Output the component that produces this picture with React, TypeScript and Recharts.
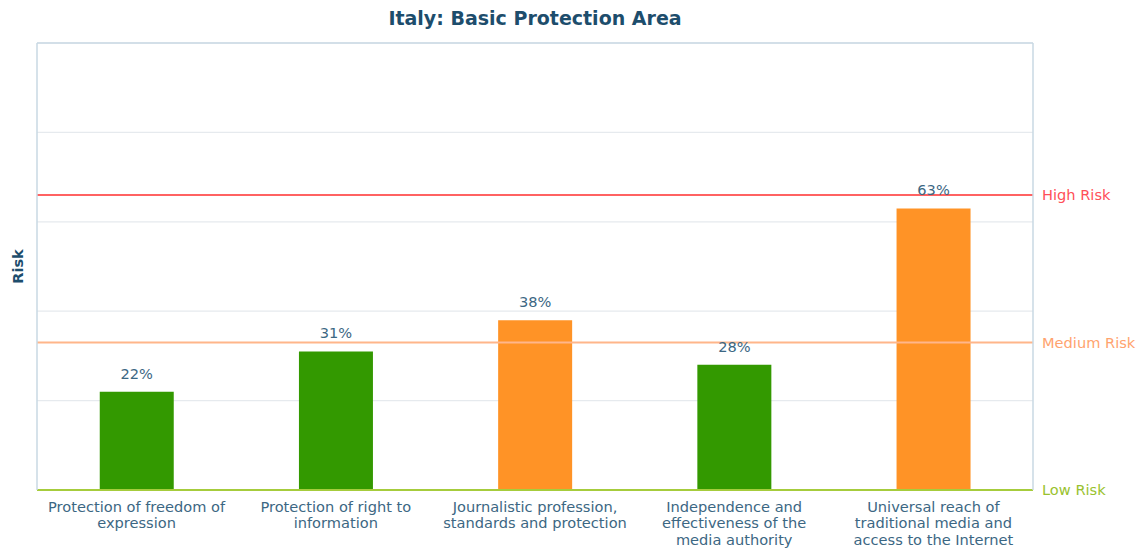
import React from 'react';
import { ComposedChart, Bar, XAxis, YAxis, CartesianGrid, ReferenceLine, LabelList, Cell } from 'recharts';

const categories = [
  'Protection of freedom of\nexpression',
  'Protection of right to\ninformation',
  'Journalistic profession,\nstandards and protection',
  'Independence and\neffectiveness of the\nmedia authority',
  'Universal reach of\ntraditional media and\naccess to the Internet',
];
const riskValues = [22, 31, 38, 28, 63];
const yTicks = [0, 20, 40, 60, 80, 100];
const thresholds = { low: 0, medium: 33, high: 66 };
const thresholdLabels = { low: 'Low Risk', medium: 'Medium Risk', high: 'High Risk' };
const title = 'Italy: Basic Protection Area';
const yLabel = 'Risk';

const data = categories.map((name, i) => ({ name, value: riskValues[i] }));

const FONT = '"DejaVu Sans", Verdana, sans-serif';
const TEXT_COLOR = '#3c6783';
const BORDER = '#c9d9e3';
const GREEN = '#339900';
const ORANGE = '#ff9326';
const FS = 14.6;

const CategoryTick = (props: any) => {
  const { x, y, payload } = props;
  const lines = String(payload.value).split('\n');
  return (
    <text x={x} y={y} textAnchor="middle" fontFamily={FONT} fontSize={FS} fill={TEXT_COLOR}>
      {lines.map((l, i) => (
        <tspan key={i} x={x} dy={i === 0 ? 21.5 : 16.7}>{l}</tspan>
      ))}
    </text>
  );
};

const EmptyTick = () => <g />;

const RiskLabel = (props: any) => {
  const vb = props.viewBox || {};
  const cx = vb.x + vb.width / 2 - 1.5;
  const cy = vb.y + vb.height / 2;
  return (
    <text x={cx} y={cy} transform={`rotate(-90 ${cx} ${cy})`} textAnchor="middle" dominantBaseline="central"
      fontFamily={FONT} fontSize={FS} fontWeight="bold" fill="#1d4d6c">{yLabel}</text>
  );
};

const refLabel = (text: string, color: string) => ({
  value: text,
  position: 'right' as const,
  offset: 9,
  fill: color,
  fontFamily: FONT,
  fontSize: FS,
});

export default function App() {
  return (
    <div style={{ position: 'absolute', left: 0, top: 0, width: 1140, height: 549, background: '#fff' }}>
      <div style={{ position: 'absolute', left: 0, width: 1070, top: 7, textAlign: 'center', fontFamily: FONT, fontWeight: 'bold', fontSize: 19, color: '#1d4d6c', lineHeight: '22px' }}>
        {title}
      </div>
      <ComposedChart width={1140} height={549} data={data} margin={{ top: 43, right: 106, bottom: 0, left: 0 }} barCategoryGap="31.5%">
        <CartesianGrid yAxisId="l" vertical={false} horizontal stroke="#e6eaee" strokeWidth={1.2} />
        <XAxis dataKey="name" interval={0} axisLine={false} tickLine={false} tickSize={0} tickMargin={0} height={59} tick={<CategoryTick />} />
        <YAxis yAxisId="l" domain={[0, 100]} ticks={yTicks} tick={<EmptyTick />} tickLine={false} width={37}
          axisLine={{ stroke: BORDER, strokeWidth: 1.5 }} label={<RiskLabel />} />
        <YAxis yAxisId="r" orientation="right" domain={[0, 100]} ticks={yTicks} tick={<EmptyTick />} tickLine={false} width={1}
          axisLine={{ stroke: BORDER, strokeWidth: 1.5 }} />
        <ReferenceLine yAxisId="l" y={100} stroke={BORDER} strokeWidth={1.5} />
        <Bar yAxisId="l" dataKey="value" isAnimationActive={false}>
          {data.map((d, i) => (
            <Cell key={i} fill={d.value > thresholds.medium ? ORANGE : GREEN} />
          ))}
          <LabelList dataKey="value" position="top" offset={13} formatter={(v: any) => `${v}%`}
            fill={TEXT_COLOR} fontFamily={FONT} fontSize={FS} />
        </Bar>
        <ReferenceLine yAxisId="l" y={thresholds.high} stroke="#ff6262" strokeWidth={2} label={refLabel(thresholdLabels.high, '#ff4f58')} />
        <ReferenceLine yAxisId="l" y={thresholds.medium} stroke="#ffb68a" strokeWidth={2} label={refLabel(thresholdLabels.medium, '#ffa36e')} />
        <ReferenceLine yAxisId="l" y={thresholds.low} stroke="#a6cc3c" strokeWidth={2} label={refLabel(thresholdLabels.low, '#99c22e')} />
      </ComposedChart>
    </div>
  );
}
